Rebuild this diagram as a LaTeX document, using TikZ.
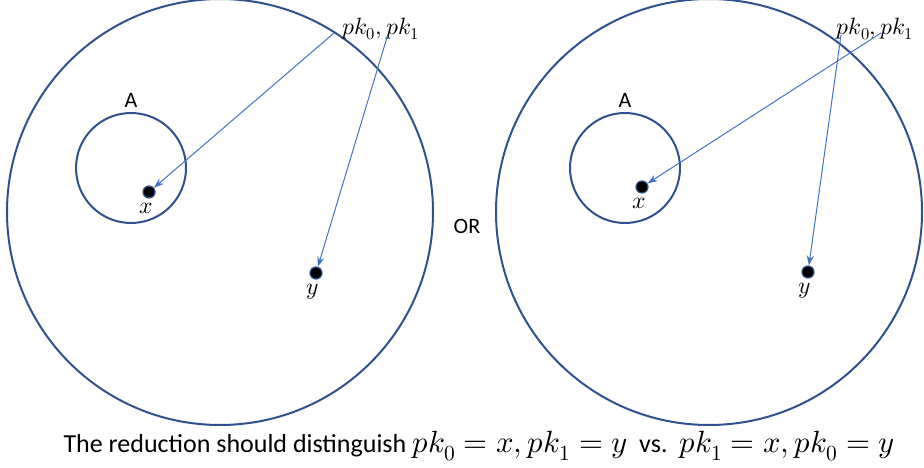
\documentclass[tikz,border=0pt]{standalone}
\usepackage{unicode-math}
\setmainfont{Carlito}
\setmathfont{Latin Modern Math}[Scale=1.18]
\usetikzlibrary{arrows.meta,positioning}

\definecolor{ringblue}{RGB}{47,82,143}
\definecolor{arrowblue}{RGB}{68,114,196}

\begin{document}
\begin{tikzpicture}[
  x=1pt, y=-1pt,
  bigring/.style={draw=ringblue, line width=2pt, circle, minimum size=426pt, inner sep=0pt},
  smallring/.style={draw=ringblue, line width=2pt, circle, minimum size=110pt, inner sep=0pt},
  pt/.style={circle, fill=black, draw=ringblue, line width=1.2pt, minimum size=12pt, inner sep=0pt},
  ptr/.style={draw=arrowblue, line width=1pt, -{Stealth[length=10pt,width=7pt]}},
  lbl/.style={font=\fontsize{22}{24}\selectfont},
  mlbl/.style={font=\fontsize{20}{22}\selectfont, inner sep=1pt}
]
  \useasboundingbox (0,0) rectangle (924,468);

  % left picture
  \node[bigring]   (outerL) at (220,212) {};
  \node[smallring] (innerL) at (131,168) {};
  \node[lbl] (aL) at (131,100) {A};
  \node[pt] (xL) at (149,192) {};
  \node[pt] (yL) at (316,273) {};
  \node[mlbl, below=3pt of xL, xshift=-3pt] {$x$};
  \node[mlbl, below=3pt of yL, xshift=-3pt] {$y$};
  \node[mlbl] (pkL) at (381,29) {$pk_0,pk_1$};
  \coordinate (sxL) at (334,33);
  \coordinate (syL) at (388,34);
  \draw[ptr] (sxL) -- (xL);
  \draw[ptr] (syL) -- (yL);

  \node[lbl] (or) at (467,226) {OR};

  % right picture
  \node[bigring]   (outerR) at (709,212) {};
  \node[smallring] (innerR) at (625,168) {};
  \node[lbl] (aR) at (625,100) {A};
  \node[pt] (xR) at (642,187) {};
  \node[pt] (yR) at (808,272) {};
  \node[mlbl, below=3pt of xR, xshift=-3pt] {$x$};
  \node[mlbl, below=3pt of yR, xshift=-3pt] {$y$};
  \node[mlbl] (pkR) at (875,29) {$pk_0,pk_1$};
  \coordinate (syR) at (841,35);
  \coordinate (sxR) at (881,33);
  \draw[ptr] (syR) -- (yR);
  \draw[ptr] (sxR) -- (xR);

  % caption
  \node[font=\fontsize{26}{28}\selectfont] (cap) at (479,446)
    {The reduction should distinguish $pk_0=x,pk_1=y$\ \ vs.\ \ $pk_1=x,pk_0=y$};
\end{tikzpicture}
\end{document}
